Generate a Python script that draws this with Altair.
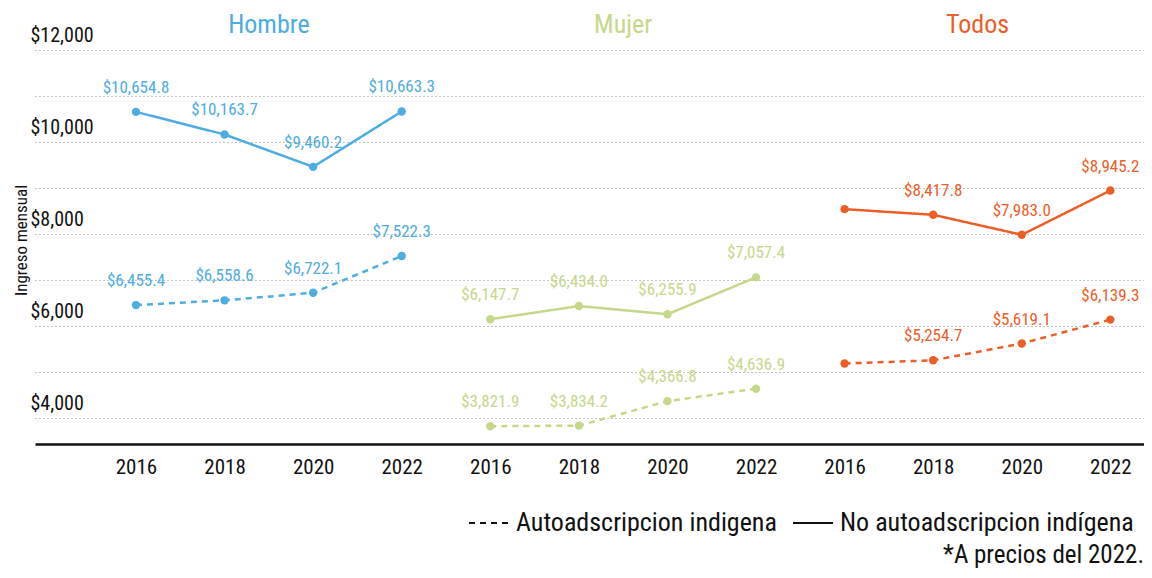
import altair as alt
import pandas as pd

# ---- data -------------------------------------------------------------
years = [2016, 2018, 2020, 2022]
panels = ["Hombre", "Mujer", "Todos"]
panel_colors = ["#4DACE2", "#C5D88A", "#EB5E28"]
tipos = ["Autoadscripcion indigena", "No autoadscripcion indígena"]

indigena_hombre = [6455.4, 6558.6, 6722.1, 7522.3]
indigena_mujer = [3821.9, 3834.2, 4366.8, 4636.9]
indigena_todos = [5185.0, 5254.7, 5619.1, 6139.3]

no_indigena_hombre = [10654.8, 10163.7, 9460.2, 10663.3]
no_indigena_mujer = [6147.7, 6434.0, 6255.9, 7057.4]
no_indigena_todos = [8540.0, 8417.8, 7983.0, 8945.2]

# which points carry a value label (Todos 2016 has none in the original)
labeled_hombre = [True, True, True, True]
labeled_mujer = [True, True, True, True]
labeled_todos = [False, True, True, True]

y_ticks = [4000, 5000, 6000, 7000, 8000, 9000, 10000, 11000, 12000]
nota = "*A precios del 2022."
y_title = "Ingreso mensual"

series = {
    ("Hombre", tipos[0]): (indigena_hombre, labeled_hombre),
    ("Mujer", tipos[0]): (indigena_mujer, labeled_mujer),
    ("Todos", tipos[0]): (indigena_todos, labeled_todos),
    ("Hombre", tipos[1]): (no_indigena_hombre, labeled_hombre),
    ("Mujer", tipos[1]): (no_indigena_mujer, labeled_mujer),
    ("Todos", tipos[1]): (no_indigena_todos, labeled_todos),
}

rows = []
for (panel, tipo), (vals, labs) in series.items():
    p = panels.index(panel)
    for i, (yr, v, lab) in enumerate(zip(years, vals, labs)):
        rows.append({
            "panel": panel,
            "tipo": tipo,
            "year": yr,
            "idx": p * len(years) + i,
            "valor": v,
            "etiqueta": f"${v:,.1f}" if lab else "",
        })
df = pd.DataFrame(rows)

titles_df = pd.DataFrame({
    "panel": panels,
    "idx": [p * len(years) + (len(years) - 1) / 2 for p in range(len(panels))],
})

FONT = "Liberation Sans Narrow, Roboto Condensed, Roboto, sans-serif"
W, H = 1109, 394

year_expr = "[" + ",".join(f"'{y}'" for y in years) + "][datum.value % 4]"
label_expr = "datum.value % 2000 == 0 ? '$' + format(datum.value, ',') : ''"

x = alt.X(
    "idx:Q",
    scale=alt.Scale(domain=[-1.14, 11.38], nice=False, zero=False),
    axis=alt.Axis(
        values=list(range(len(panels) * len(years))),
        labelExpr=year_expr,
        title=None,
        grid=False,
        ticks=False,
        domainColor="#111111",
        domainWidth=2.5,
        labelFontSize=21,
        labelFontWeight="normal",
        labelColor="#111111",
        labelPadding=12,
    ),
)
y = alt.Y(
    "valor:Q",
    scale=alt.Scale(domain=[3435, 12000], nice=False, zero=False),
    axis=alt.Axis(
        values=y_ticks,
        labelExpr=label_expr,
        title=y_title,
        titleFontSize=17,
        titleFontWeight="normal",
        titleColor="#111111",
        titleX=-14,
        titleY=190,
        titleBaseline="middle",
        titleAngle=-90,
        domain=False,
        ticks=False,
        grid=True,
        gridDash=[1, 3],
        gridColor="#888888",
        gridWidth=1,
        labelAlign="left",
        labelBaseline="bottom",
        labelPadding=5,
        labelOffset=-5,
        labelFontSize=20,
        labelColor="#111111",
    ),
)
color = alt.Color("panel:N", scale=alt.Scale(domain=panels, range=panel_colors), legend=None)
dash = alt.StrokeDash(
    "tipo:N",
    scale=alt.Scale(domain=tipos, range=[[6, 5], [1, 0]]),
    legend=alt.Legend(
        title=None,
        orient="none",
        legendX=433,
        legendY=452,
        direction="horizontal",
        symbolType="stroke",
        symbolStrokeColor="#111111",
        symbolStrokeWidth=2,
        symbolSize=1600,
        labelFontSize=26,
        labelColor="#111111",
        labelLimit=500,
        labelOffset=6,
        columnPadding=12,
    ),
)

base = alt.Chart(df)
lines = base.mark_line(strokeWidth=2.5).encode(x=x, y=y, color=color, strokeDash=dash, detail="panel:N")
points = base.mark_circle(size=70, opacity=1).encode(x="idx:Q", y="valor:Q", color=color)
labels = base.mark_text(dy=-24, fontSize=17, baseline="middle").encode(
    x="idx:Q", y="valor:Q", text="etiqueta:N", color=color
)
titles = alt.Chart(titles_df).mark_text(fontSize=26, baseline="middle").encode(
    x="idx:Q", y=alt.value(-25), text="panel:N", color=color
)
note = alt.Chart(pd.DataFrame({"t": [nota]})).mark_text(
    fontSize=25, fontWeight="normal", align="right", baseline="middle", color="#111111"
).encode(x=alt.value(W), y=alt.value(505), text="t:N")

chart = (
    alt.layer(lines, points, labels, titles, note)
    .properties(
        width=W,
        height=H,
        autosize=alt.AutoSizeParams(type="none"),
        padding={"left": 27, "top": 42, "right": 0, "bottom": 126},
    )
    .configure(font=FONT)
    .configure_view(stroke=None)
)

chart.save("out.html", embed_options={"renderer": "svg", "actions": False})
